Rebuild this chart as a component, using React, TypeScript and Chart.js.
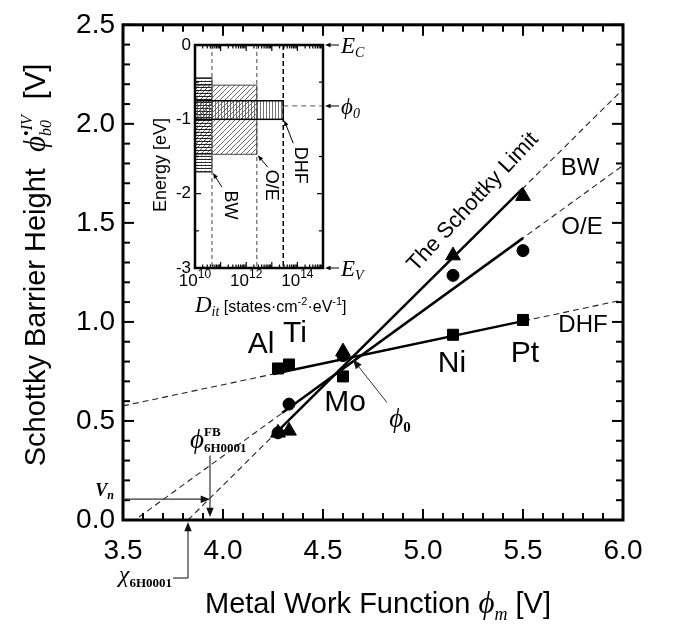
import React, { useEffect, useRef } from 'react';
import { Chart, registerables } from 'chart.js';

Chart.register(...registerables);

const SANS = '"Liberation Sans", Arial, sans-serif';
const SERIF = '"Liberation Serif", "Times New Roman", serif';
const PHI = '\u03D5';

// ---------- main chart data ----------
const metals = ['Al', 'Ti', 'Mo', 'Ni', 'Pt'];
const workFunction = [4.275, 4.33, 4.6, 5.15, 5.5];
const barrierDHF = [0.765, 0.785, 0.725, 0.935, 1.01]; // squares
const barrierOE = [0.44, 0.585, 0.83, 1.235, 1.36]; // circles
const barrierBW = [0.44, 0.45, 0.85, 1.335, 1.635]; // triangles

const bwFitX = [3.825, 6.0];
const bwFitY = [0.0, 2.175];
const bwSolidX = [4.27, 5.5];
const bwSolidY = [0.445, 1.675];
const oeFitX = [3.58, 6.0];
const oeFitY = [0.015, 1.79];
const oeSolidX = [4.295, 5.5];
const oeSolidY = [0.54, 1.423];
const dhfFitX = [3.5, 6.0];
const dhfFitY = [0.576, 1.111];
const dhfSolidX = [4.25, 5.5];
const dhfSolidY = [0.737, 1.004];

const xTickLabels = ['3.5', '4.0', '4.5', '5.0', '5.5', '6.0'];
const yTickLabels = ['0.0', '0.5', '1.0', '1.5', '2.0', '2.5'];

const phi0 = [4.645, 0.815];
const vnLevel = 0.105;
const phiFB = 3.935;
const chi6H = 3.825;

// ---------- inset data ----------
const insetModels = ['BW', 'O/E', 'DHF'];
const ditMin = [1e10, 1e10, 1e10];
const ditMax = [4.6e10, 2.6e12, 2.8e13];
const energyUpper = [-0.44, -0.54, -0.75];
const energyLower = [-1.71, -1.47, -1.0];
const phi0Energy = -0.82;
const insetYTickLabels = ['0', '-1', '-2', '-3'];
const insetXTickExps = ['10', '12', '14'];

type Run = { t: string; font: string; dy?: number; stack?: boolean };

function drawRuns(ctx: CanvasRenderingContext2D, runs: Run[], x: number, y: number, align = 'left', angle = 0) {
  ctx.save();
  ctx.translate(x, y);
  ctx.rotate(angle);
  ctx.textBaseline = 'alphabetic';
  ctx.textAlign = 'left';
  let cx = 0;
  let stackW = 0;
  const pos: number[] = [];
  runs.forEach((r) => {
    ctx.font = r.font;
    const w = ctx.measureText(r.t).width;
    pos.push(cx);
    if (r.stack) stackW = Math.max(stackW, w);
    else {
      cx += Math.max(w, stackW);
      stackW = 0;
    }
  });
  const off = align === 'center' ? -cx / 2 : align === 'right' ? -cx : 0;
  runs.forEach((r, i) => {
    ctx.font = r.font;
    ctx.fillText(r.t, off + pos[i], r.dy || 0);
  });
  ctx.restore();
}

function line(ctx: CanvasRenderingContext2D, x1: number, y1: number, x2: number, y2: number) {
  ctx.beginPath();
  ctx.moveTo(x1, y1);
  ctx.lineTo(x2, y2);
  ctx.stroke();
}

function arrow(ctx: CanvasRenderingContext2D, x1: number, y1: number, x2: number, y2: number, head = 8) {
  const a = Math.atan2(y2 - y1, x2 - x1);
  line(ctx, x1, y1, x2 - Math.cos(a) * head * 0.6, y2 - Math.sin(a) * head * 0.6);
  ctx.beginPath();
  ctx.moveTo(x2, y2);
  ctx.lineTo(x2 - head * Math.cos(a - 0.38), y2 - head * Math.sin(a - 0.38));
  ctx.lineTo(x2 - head * Math.cos(a + 0.38), y2 - head * Math.sin(a + 0.38));
  ctx.closePath();
  ctx.fill();
}

const mainPlugin = {
  id: 'mainDecor',
  afterDraw(chart: any) {
    const { ctx, chartArea: ca, scales } = chart;
    const xs = scales.x;
    const ys = scales.y;
    const px = (v: number) => xs.getPixelForValue(v);
    const py = (v: number) => ys.getPixelForValue(v);
    ctx.save();
    // frame
    ctx.strokeStyle = '#000';
    ctx.lineWidth = 3;
    ctx.strokeRect(ca.left, ca.top, ca.right - ca.left, ca.bottom - ca.top);
    // inward ticks
    ctx.lineWidth = 2;
    for (let k = 0; k <= 25; k++) {
      const X = px(3.5 + k * 0.1);
      const L = k % 5 === 0 ? 11 : 7;
      line(ctx, X, ca.bottom, X, ca.bottom - L);
      line(ctx, X, ca.top, X, ca.top + L);
      const Y = py(k * 0.1);
      line(ctx, ca.left, Y, ca.left + L, Y);
      line(ctx, ca.right, Y, ca.right - L, Y);
    }

    // axis titles
    ctx.fillStyle = '#000';
    drawRuns(
      ctx,
      [
        { t: 'Schottky Barrier Height  ', font: `29px ${SANS}` },
        { t: PHI, font: `italic 31px ${SERIF}` },
        { t: '•IV', font: `italic 16px ${SERIF}`, dy: -13, stack: true },
        { t: 'b0', font: `italic 16px ${SERIF}`, dy: 6 },
        { t: '  [V]', font: `29px ${SANS}` },
      ],
      45,
      265,
      'center',
      -Math.PI / 2
    );
    drawRuns(
      ctx,
      [
        { t: 'Metal Work Function ', font: `29px ${SANS}` },
        { t: PHI, font: `italic 31px ${SERIF}` },
        { t: 'm', font: `italic 18px ${SERIF}`, dy: 7 },
        { t: ' [V]', font: `29px ${SANS}` },
      ],
      378,
      613,
      'center'
    );

    // metal labels
    ctx.textAlign = 'center';
    ctx.textBaseline = 'middle';
    ctx.font = `30px ${SANS}`;
    const metalLabelPos = [
      [4.19, 0.885],
      [4.36, 0.94],
      [4.61, 0.59],
      [5.145, 0.79],
      [5.51, 0.84],
    ];
    metals.forEach((m, i) => ctx.fillText(m, px(metalLabelPos[i][0]), py(metalLabelPos[i][1])));
    // fit labels
    ctx.font = `24px ${SANS}`;
    ctx.fillText('BW', px(5.785), py(1.775));
    ctx.fillText('O/E', px(5.795), py(1.475));
    ctx.fillText('DHF', px(5.8), py(0.985));
    // Schottky limit text
    ctx.save();
    ctx.translate(px(5.25), py(1.605));
    ctx.rotate((-47 * Math.PI) / 180);
    ctx.font = `22px ${SANS}`;
    ctx.fillText('The Schottky Limit', 0, 0);
    ctx.restore();

    // arrows and annotations
    ctx.strokeStyle = '#333';
    ctx.fillStyle = '#111';
    ctx.lineWidth = 1.2;
    arrow(ctx, ca.left, py(vnLevel), px(phiFB), py(vnLevel), 10);
    arrow(ctx, px(phiFB), py(0.325), px(phiFB), py(0.015), 10);
    const cX = px(chi6H);
    line(ctx, cX - 15, ca.bottom + 58, cX, ca.bottom + 58);
    arrow(ctx, cX, ca.bottom + 58, cX, ca.bottom + 2, 10);
    const p0x = px(phi0[0]);
    const p0y = py(phi0[1]);
    ctx.lineWidth = 1;
    arrow(ctx, p0x + 35, p0y + 44, p0x + 1, p0y + 1, 10);

    ctx.fillStyle = '#000';
    drawRuns(
      ctx,
      [
        { t: PHI, font: `italic 27px ${SERIF}` },
        { t: '0', font: `bold 15px ${SERIF}`, dy: 5 },
      ],
      p0x + 48,
      p0y + 68,
      'center'
    );
    drawRuns(
      ctx,
      [
        { t: PHI, font: `italic 27px ${SERIF}` },
        { t: 'FB', font: `bold 13px ${SERIF}`, dy: -12, stack: true },
        { t: '6H0001', font: `bold 13px ${SERIF}`, dy: 4 },
      ],
      px(phiFB) - 20,
      448,
      'left'
    );
    drawRuns(
      ctx,
      [
        { t: 'V', font: `italic bold 18px ${SERIF}` },
        { t: 'n', font: `italic bold 12px ${SERIF}`, dy: 3 },
      ],
      ca.left - 9,
      py(vnLevel) - 3,
      'right'
    );
    drawRuns(
      ctx,
      [
        { t: 'χ', font: `italic 24px ${SERIF}` },
        { t: '6H0001', font: `bold 13px ${SERIF}`, dy: 5 },
      ],
      cX - 16,
      ca.bottom + 62,
      'right'
    );
    ctx.restore();
  },
};

let patternCache: any = null;
function getPatterns(ctx: CanvasRenderingContext2D) {
  if (patternCache) return patternCache;
  const mk = (w: number, h: number, draw: (g: CanvasRenderingContext2D) => void) => {
    const c = document.createElement('canvas');
    c.width = w;
    c.height = h;
    const g = c.getContext('2d')!;
    draw(g);
    return ctx.createPattern(c, 'repeat');
  };
  const bw = mk(4, 3, (g) => {
    g.fillStyle = 'rgba(0,0,0,0.85)';
    g.fillRect(0, 0, 4, 1);
    g.fillStyle = 'rgba(0,0,0,0.25)';
    g.fillRect(1, 2, 1, 1);
  });
  const oe = mk(5, 5, (g) => {
    g.fillStyle = 'rgba(60,60,60,0.75)';
    for (let i = 0; i < 5; i++) g.fillRect(i, 4 - i, 1, 1);
  });
  const dhf = mk(3, 3, (g) => {
    g.fillStyle = 'rgba(80,80,80,0.8)';
    g.fillRect(0, 0, 1, 3);
  });
  patternCache = [bw, oe, dhf];
  return patternCache;
}

const insetPlugin = {
  id: 'insetDecor',
  beforeDatasetsDraw(chart: any) {
    const { ctx, scales } = chart;
    const xs = scales.x;
    const ys = scales.y;
    const pats = getPatterns(ctx);
    ctx.save();
    ctx.fillStyle = '#fff';
    ctx.fillRect(chart.chartArea.left, chart.chartArea.top, chart.chartArea.width, chart.chartArea.height);
    [1, 0, 2].forEach((i) => {
      const x0 = xs.getPixelForValue(ditMin[i]);
      const x1 = xs.getPixelForValue(ditMax[i]);
      const y0 = ys.getPixelForValue(energyUpper[i]);
      const y1 = ys.getPixelForValue(energyLower[i]);
      ctx.fillStyle = pats[i];
      ctx.fillRect(x0, y0, x1 - x0, y1 - y0);
      ctx.strokeStyle = i === 2 ? '#000' : '#444';
      ctx.lineWidth = i === 2 ? 1.5 : 1;
      ctx.strokeRect(x0, y0, x1 - x0, y1 - y0);
    });
    ctx.restore();
  },
  afterDraw(chart: any) {
    const { ctx, chartArea: ca, scales } = chart;
    const xs = scales.x;
    const ys = scales.y;
    const px = (v: number) => xs.getPixelForValue(v);
    const py = (v: number) => ys.getPixelForValue(v);
    ctx.save();
    ctx.strokeStyle = '#000';
    ctx.fillStyle = '#000';
    ctx.lineWidth = 2.5;
    ctx.strokeRect(ca.left, ca.top, ca.right - ca.left, ca.bottom - ca.top);
    // log ticks
    ctx.lineWidth = 1.2;
    for (let d = 10; d <= 15; d++) {
      for (let m = 1; m <= 9; m++) {
        if (d === 15 && m > 1) break;
        const X = px(m * Math.pow(10, d));
        const L = m === 1 ? 6 : 3.5;
        line(ctx, X, ca.bottom, X, ca.bottom - L);
        line(ctx, X, ca.top, X, ca.top + L);
      }
    }
    for (let k = 0; k <= 6; k++) {
      const Y = py(-k * 0.5);
      const L = k % 2 === 0 ? 6 : 4;
      line(ctx, ca.left, Y, ca.left + L, Y);
      line(ctx, ca.right, Y, ca.right - L, Y);
    }
    // tick labels
    ctx.font = `17px ${SANS}`;
    ctx.textAlign = 'right';
    ctx.textBaseline = 'middle';
    insetYTickLabels.forEach((t) => ctx.fillText(t, ca.left - 4, py(parseFloat(t))));
    insetXTickExps.forEach((e) => {
      drawRuns(
        ctx,
        [
          { t: '10', font: `17px ${SANS}` },
          { t: e, font: `12px ${SANS}`, dy: -8 },
        ],
        px(Math.pow(10, parseFloat(e))),
        ca.bottom + 18,
        'center'
      );
    });
    // titles
    drawRuns(ctx, [{ t: 'Energy [eV]', font: `18px ${SANS}` }], 26, 135, 'center', -Math.PI / 2);
    drawRuns(
      ctx,
      [
        { t: 'D', font: `italic 23px ${SERIF}` },
        { t: 'it', font: `italic 14px ${SERIF}`, dy: 4 },
        { t: ' [states·cm', font: `16px ${SANS}` },
        { t: '-2', font: `11px ${SANS}`, dy: -7 },
        { t: '·eV', font: `16px ${SANS}` },
        { t: '-1', font: `11px ${SANS}`, dy: -7 },
        { t: ']', font: `16px ${SANS}` },
      ],
      ca.left,
      ca.bottom + 44,
      'left'
    );
    // right side level markers
    ctx.strokeStyle = '#000';
    ctx.lineWidth = 1;
    const levels: [number, Run[]][] = [
      [0, [{ t: 'E', font: `italic 23px ${SERIF}` }, { t: 'C', font: `italic 14px ${SERIF}`, dy: 4 }]],
      [phi0Energy, [{ t: PHI, font: `italic 23px ${SERIF}` }, { t: '0', font: `italic 14px ${SERIF}`, dy: 4 }]],
      [-3, [{ t: 'E', font: `italic 23px ${SERIF}` }, { t: 'V', font: `italic 14px ${SERIF}`, dy: 4 }]],
    ];
    levels.forEach(([v, runs]) => {
      const Y = py(v);
      arrow(ctx, ca.right + 16, Y, ca.right + 2, Y, 6);
      drawRuns(ctx, runs, ca.right + 18, Y + 8, 'left');
    });
    // model labels with leaders
    const leader = [
      [10, 15, 18, 33],
      [11, 13, 14, 31],
      [10, 24, 17, 46],
    ];
    ctx.font = `18px ${SANS}`;
    insetModels.forEach((name, i) => {
      const tx = px(ditMax[i]);
      const ty = py(energyLower[i]);
      const [ax, ay, lx, ly] = leader[i];
      arrow(ctx, tx + ax, ty + ay, tx + 1, ty + 1, 6);
      ctx.save();
      ctx.translate(tx + lx, ty + ly);
      ctx.rotate(Math.PI / 2);
      ctx.textAlign = 'center';
      ctx.textBaseline = 'middle';
      ctx.fillText(name, 0, 0);
      ctx.restore();
    });
    ctx.restore();
  },
};

export default function App() {
  const mainRef = useRef<HTMLCanvasElement>(null);
  const insetRef = useRef<HTMLCanvasElement>(null);

  useEffect(() => {
    document.body.style.margin = '0';
    const pts = (ys: number[]) => workFunction.map((x, i) => ({ x, y: ys[i] }));
    const seg = (xv: number[], yv: number[]) => xv.map((x, i) => ({ x, y: yv[i] }));
    const solid = (d: any) => ({
      data: d,
      showLine: true,
      borderColor: '#000',
      borderWidth: 2.5,
      pointRadius: 0,
    });
    const dashed = (d: any) => ({
      data: d,
      showLine: true,
      borderColor: '#222',
      borderWidth: 1.1,
      borderDash: [6, 4],
      pointRadius: 0,
    });
    const marker = (d: any, style: string, r: number) => ({
      data: d,
      showLine: false,
      pointStyle: style,
      pointRadius: r,
      pointBackgroundColor: '#000',
      pointBorderColor: '#000',
      pointBorderWidth: 1,
    });

    const main = new Chart(mainRef.current!, {
      type: 'scatter',
      data: {
        datasets: [
          marker(pts(barrierDHF), 'rect', 7.8),
          marker(pts(barrierOE), 'circle', 6),
          marker(pts(barrierBW), 'triangle', 8.5),
          solid(seg(bwSolidX, bwSolidY)),
          solid(seg(oeSolidX, oeSolidY)),
          solid(seg(dhfSolidX, dhfSolidY)),
          dashed(seg(bwFitX, bwFitY)),
          dashed(seg(oeFitX, oeFitY)),
          dashed(seg(dhfFitX, dhfFitY)),
        ] as any,
      },
      options: {
        animation: false,
        responsive: false,
        devicePixelRatio: 1,
        layout: { padding: { left: 0, top: 20, right: 50, bottom: 0 } },
        plugins: { legend: { display: false }, tooltip: { enabled: false } },
        events: [],
        scales: {
          x: {
            type: 'linear',
            min: 3.5,
            max: 6.0,
            grid: { display: false, drawTicks: false },
            border: { display: false },
            ticks: {
              stepSize: 0.5,
              color: '#000',
              padding: 14,
              font: { family: SANS, size: 28 },
              callback: (v: any) => xTickLabels.find((l) => Math.abs(parseFloat(l) - v) < 1e-6) ?? '',
            },
            afterFit: (s: any) => {
              s.height = 106;
            },
          },
          y: {
            type: 'linear',
            min: 0,
            max: 2.5,
            grid: { display: false, drawTicks: false },
            border: { display: false },
            ticks: {
              stepSize: 0.5,
              color: '#000',
              padding: 8,
              font: { family: SANS, size: 28 },
              callback: (v: any) => yTickLabels.find((l) => Math.abs(parseFloat(l) - v) < 1e-6) ?? '',
            },
            afterFit: (s: any) => {
              s.width = 123;
            },
          },
        },
      } as any,
      plugins: [mainPlugin],
    });

    const vline = (xv: number, color: string, w: number, dash: number[]) => ({
      data: [
        { x: xv, y: 0 },
        { x: xv, y: -3 },
      ],
      showLine: true,
      borderColor: color,
      borderWidth: w,
      borderDash: dash,
      pointRadius: 0,
    });

    const inset = new Chart(insetRef.current!, {
      type: 'scatter',
      data: {
        datasets: [
          vline(ditMax[0], '#444', 1, [4, 3]),
          vline(ditMax[1], '#444', 1, [4, 3]),
          vline(ditMax[2], '#000', 1.5, [5, 3]),
          {
            data: [
              { x: ditMax[2], y: phi0Energy },
              { x: 1e15, y: phi0Energy },
            ],
            showLine: true,
            borderColor: '#777',
            borderWidth: 1.3,
            borderDash: [5, 4],
            pointRadius: 0,
          },
        ] as any,
      },
      options: {
        animation: false,
        responsive: false,
        devicePixelRatio: 1,
        layout: { padding: { left: 0, top: 15, right: 57, bottom: 0 } },
        plugins: { legend: { display: false }, tooltip: { enabled: false } },
        events: [],
        scales: {
          x: {
            type: 'logarithmic',
            min: 1e10,
            max: 1e15,
            grid: { display: false, drawTicks: false },
            border: { display: false },
            ticks: { display: false },
            afterFit: (s: any) => {
              s.height = 52;
            },
          },
          y: {
            type: 'linear',
            min: -3,
            max: 0,
            grid: { display: false, drawTicks: false },
            border: { display: false },
            ticks: { display: false },
            afterFit: (s: any) => {
              s.width = 55;
            },
          },
        },
      } as any,
      plugins: [insetPlugin],
    });

    return () => {
      main.destroy();
      inset.destroy();
    };
  }, []);

  return (
    <div style={{ position: 'relative', width: 673, height: 626, background: '#fff' }}>
      <canvas ref={mainRef} width={673} height={626} style={{ position: 'absolute', left: 0, top: 0 }} />
      <canvas ref={insetRef} width={240} height={290} style={{ position: 'absolute', left: 140, top: 30 }} />
    </div>
  );
}
